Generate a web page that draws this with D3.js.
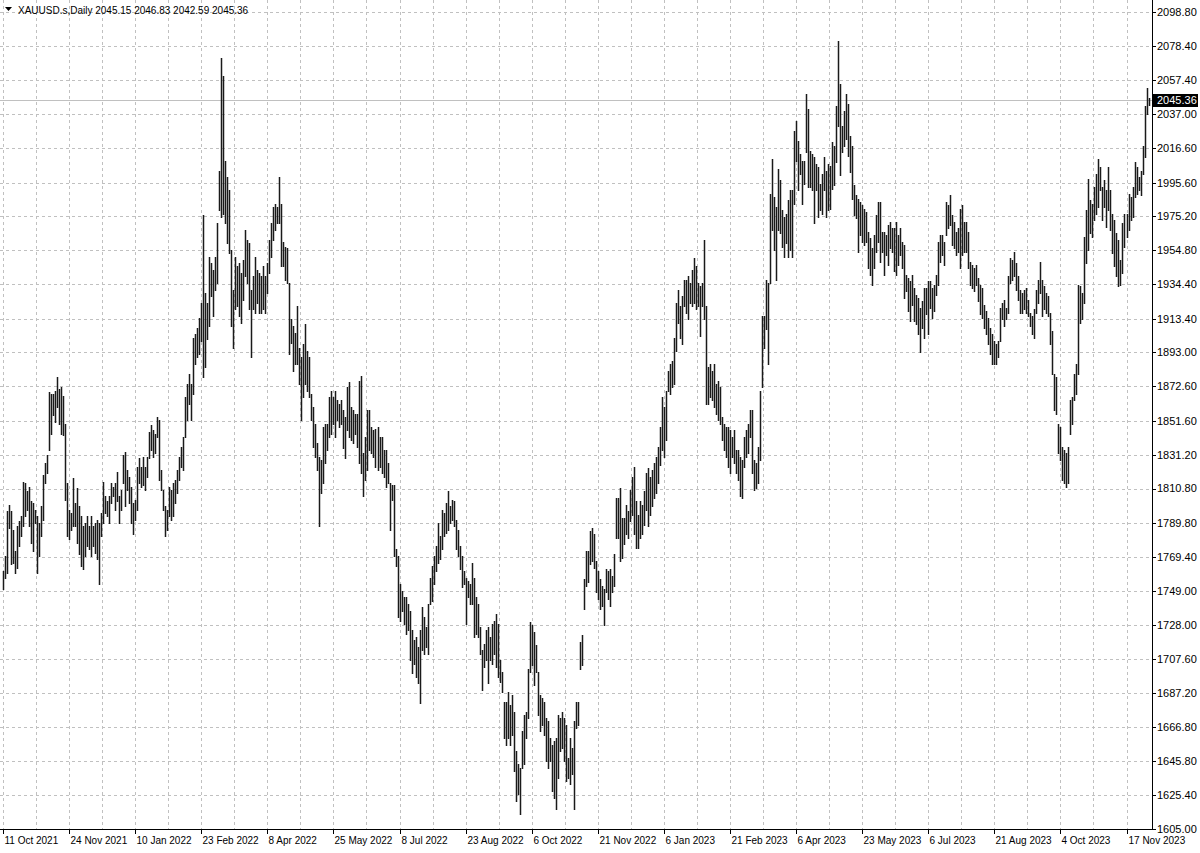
<!DOCTYPE html>
<html><head><meta charset="utf-8">
<script src="https://cdn.jsdelivr.net/npm/d3@7"></script>
<style>html,body{margin:0;padding:0;background:#fff;}svg{display:block;}</style>
</head><body>
<svg id="c" width="1200" height="853"></svg>
<script>
const symbolName = "XAUUSD.s,Daily";
const lastOHLC = [2045.15, 2046.83, 2042.59, 2045.36];
const currentPrice = 2045.36;
const dateLabels = ["11 Oct 2021","24 Nov 2021","10 Jan 2022","23 Feb 2022","8 Apr 2022","25 May 2022","8 Jul 2022","23 Aug 2022","6 Oct 2022","21 Nov 2022","6 Jan 2023","21 Feb 2023","6 Apr 2023","23 May 2023","6 Jul 2023","21 Aug 2023","4 Oct 2023","17 Nov 2023"];
const barsPerLabel = 33;
const priceTicks = [2098.80,2078.40,2057.40,2037.00,2016.60,1995.60,1975.20,1954.80,1934.40,1913.40,1893.00,1872.60,1851.60,1831.20,1810.80,1789.80,1769.40,1749.00,1728.00,1707.60,1687.20,1666.80,1645.80,1625.40,1605.00];

const highs = [
1761,1770,1797,1801,1797,1786,1773,1788,1791,1794,
1815,1814,1809,1812,1803,1802,1798,1794,1790,1800,
1819,1826,1831,1869,1868,1868,1870,1878,1871,1872,
1867,1850,1814,1798,1796,1817,1802,1811,1800,1794,
1788,1790,1794,1788,1794,1788,1790,1792,1790,1796,
1815,1806,1803,1806,1814,1812,1814,1821,1806,1810,
1831,1833,1822,1818,1812,1802,1804,1824,1829,1824,
1830,1824,1830,1845,1849,1846,1844,1854,1852,1822,
1810,1800,1798,1812,1810,1814,1816,1822,1830,1836,
1842,1866,1874,1880,1874,1902,1904,1908,1914,1923,
1976,1929,1923,1951,1947,1943,1951,1971,2003,2071,
2060,2009,1999,1991,1955,1931,1951,1945,1947,1941,
1949,1967,1961,1959,1931,1939,1951,1943,1941,1939,
1945,1939,1947,1961,1971,1981,1983,1981,1999,1983,
1960,1957,1956,1935,1913,1909,1905,1921,1896,1890,
1898,1910,1894,1890,1868,1860,1850,1838,1830,1828,
1848,1850,1850,1866,1870,1866,1870,1864,1862,1864,
1858,1854,1872,1875,1860,1858,1856,1856,1876,1879,
1832,1842,1858,1858,1848,1846,1847,1848,1842,1842,
1834,1834,1826,1814,1813,1813,1774,1770,1753,1749,
1745,1745,1741,1737,1725,1719,1721,1715,1725,1739,
1733,1727,1741,1757,1764,1770,1776,1790,1782,1798,
1796,1802,1809,1800,1804,1803,1792,1786,1776,1770,
1761,1757,1755,1753,1766,1757,1745,1741,1727,1713,
1717,1725,1727,1721,1729,1731,1735,1729,1707,1700,
1682,1682,1688,1680,1686,1676,1652,1644,1642,1664,
1674,1676,1702,1730,1728,1724,1716,1700,1686,1684,
1682,1672,1670,1660,1656,1658,1660,1674,1672,1676,
1672,1668,1648,1660,1654,1670,1682,1682,1718,1722,
1756,1773,1773,1785,1787,1783,1767,1761,1756,1752,
1750,1762,1761,1762,1758,1771,1805,1805,1811,1793,
1793,1801,1797,1810,1818,1824,1803,1795,1803,1801,
1809,1820,1823,1818,1822,1826,1830,1836,1848,1866,
1860,1870,1882,1886,1888,1902,1923,1931,1921,1927,
1937,1937,1939,1935,1943,1950,1945,1935,1933,1935,
1961,1921,1884,1886,1882,1886,1874,1876,1872,1854,
1850,1848,1848,1846,1842,1846,1834,1834,1830,1828,
1842,1846,1850,1858,1858,1828,1826,1836,1870,1915,
1915,1937,1935,1989,2010,1987,1981,2004,1997,1979,
1975,1977,1985,1991,1991,2027,2033,2021,2013,2009,
2009,2049,2040,2015,2013,2011,2007,2005,1995,2001,
2011,2003,2007,2006,2020,2018,2042,2081,2055,2030,
2039,2049,2043,2024,2018,1994,1988,1986,1984,1982,
1980,1978,1966,1962,1956,1964,1976,1984,1984,1966,
1966,1964,1970,1972,1968,1968,1972,1964,1968,1960,
1958,1940,1938,1936,1940,1932,1928,1926,1920,1924,
1932,1932,1936,1936,1932,1934,1940,1960,1964,1964,
1960,1984,1982,1988,1976,1972,1966,1968,1980,1982,
1972,1972,1966,1948,1946,1944,1946,1938,1934,1932,
1922,1918,1914,1908,1904,1900,1898,1900,1920,1923,
1925,1920,1939,1950,1949,1954,1947,1939,1931,1929,
1931,1932,1925,1917,1915,1919,1931,1937,1948,1937,
1933,1929,1927,1917,1906,1880,1878,1850,1848,1836,
1834,1832,1836,1864,1866,1880,1886,1934,1933,1929,
1963,1979,1998,1985,1983,1993,2001,2010,2005,1993,
1997,1991,2005,1991,1977,1973,1965,1961,1949,1971,
1977,1977,1989,1987,1993,2008,2005,1999,2003,2018,
2042,2053,2046.83
];
const lows = [
1750,1757,1760,1787,1765,1766,1760,1763,1776,1782,
1788,1794,1798,1788,1778,1773,1790,1760,1770,1782,
1792,1814,1820,1834,1844,1855,1851,1860,1850,1844,
1843,1804,1782,1780,1786,1788,1788,1778,1771,1764,
1762,1770,1776,1774,1770,1776,1772,1768,1753,1782,
1790,1796,1794,1790,1802,1806,1798,1803,1790,1798,
1814,1800,1810,1802,1790,1783,1792,1798,1814,1812,
1813,1810,1818,1829,1834,1830,1832,1842,1816,1810,
1798,1782,1786,1794,1792,1794,1802,1808,1816,1824,
1822,1842,1852,1862,1852,1868,1886,1890,1892,1900,
1878,1884,1901,1909,1927,1915,1931,1935,1979,1975,
1977,1971,1959,1953,1909,1896,1919,1921,1915,1911,
1925,1939,1935,1919,1890,1919,1917,1923,1917,1917,
1919,1917,1929,1941,1951,1961,1967,1971,1971,1945,
1945,1937,1935,1892,1899,1882,1886,1886,1874,1852,
1866,1874,1870,1866,1852,1836,1830,1822,1788,1808,
1814,1826,1834,1842,1844,1850,1842,1852,1848,1850,
1835,1829,1846,1842,1840,1838,1844,1836,1826,1820,
1806,1816,1822,1834,1832,1830,1824,1822,1824,1820,
1818,1812,1814,1786,1804,1770,1764,1733,1731,1737,
1729,1723,1725,1707,1699,1705,1697,1693,1681,1713,
1711,1715,1711,1741,1743,1753,1761,1766,1768,1774,
1782,1784,1786,1790,1792,1788,1774,1770,1762,1751,
1753,1729,1745,1741,1741,1721,1723,1721,1711,1689,
1703,1707,1693,1707,1705,1711,1703,1697,1694,1688,
1660,1656,1660,1656,1662,1640,1622,1626,1614,1642,
1644,1660,1672,1700,1704,1692,1700,1674,1664,1668,
1662,1646,1642,1646,1628,1624,1617,1636,1652,1654,
1646,1634,1636,1632,1638,1617,1666,1668,1702,1704,
1738,1752,1754,1765,1767,1763,1748,1744,1738,1740,
1728,1748,1744,1740,1748,1752,1781,1781,1767,1769,
1777,1783,1781,1791,1795,1783,1775,1775,1781,1783,
1789,1798,1788,1795,1800,1805,1808,1814,1825,1834,
1830,1840,1870,1868,1872,1874,1894,1911,1902,1898,
1921,1917,1913,1923,1921,1923,1919,1921,1903,1921,
1913,1862,1862,1866,1864,1860,1856,1852,1850,1840,
1834,1830,1824,1820,1830,1826,1820,1816,1806,1805,
1824,1830,1832,1842,1820,1810,1811,1814,1828,1872,
1896,1907,1886,1935,1967,1955,1937,1967,1965,1957,
1951,1959,1951,1955,1951,1983,2009,1991,2001,1983,
1995,2014,1993,1993,1991,1971,1991,1975,1979,1977,
1991,1975,1979,1980,1992,1994,2008,2030,2000,2014,
2018,2022,2012,2002,1986,1976,1974,1954,1964,1960,
1958,1960,1944,1940,1934,1944,1954,1960,1948,1954,
1940,1952,1946,1956,1954,1942,1940,1946,1952,1944,
1926,1930,1918,1912,1922,1912,1910,1904,1893,1908,
1902,1916,1904,1920,1914,1918,1928,1934,1948,1952,
1946,1964,1968,1970,1958,1956,1952,1954,1944,1952,
1954,1954,1944,1934,1932,1930,1934,1924,1916,1914,
1908,1904,1898,1892,1886,1886,1886,1890,1900,1913,
1909,1913,1917,1935,1937,1939,1931,1925,1917,1917,
1919,1917,1915,1909,1904,1902,1917,1923,1929,1915,
1919,1917,1915,1898,1880,1858,1856,1832,1828,1816,
1814,1812,1814,1844,1850,1864,1868,1880,1911,1913,
1923,1947,1955,1965,1963,1973,1977,1981,1991,1973,
1981,1969,1979,1967,1953,1945,1939,1933,1934,1941,
1957,1963,1967,1973,1975,1987,1989,1991,1988,2001,
2011,2037,2042.59
];

const W = 1200, H = 853;
const plotRight = 1152, plotBottom = 829;
const svg = d3.select("#c");
const font = "'Liberation Sans', Arial, sans-serif";

const x = d3.scaleLinear().domain([0, barsPerLabel * (dateLabels.length - 1)]).range([3, 1126.5]);
const y = d3.scaleLinear().domain([1605, 2098.8]).range([829, 12]);
const px = v => Math.round(x(v)) + 0.5;
const py = v => Math.round(y(v)) + 0.5;

svg.append("rect").attr("width", W).attr("height", H).attr("fill", "#fff");

// grid
const grid = svg.append("g").attr("stroke", "#c0c0c0").attr("stroke-dasharray", "3,3").attr("shape-rendering", "crispEdges");
priceTicks.forEach(p => {
  grid.append("line").attr("x1", 0).attr("x2", plotRight).attr("y1", py(p)).attr("y2", py(p));
});
d3.range(0, highs.length, barsPerLabel / 2).forEach(i => {
  if (x(i) < plotRight - 2) grid.append("line").attr("x1", px(i)).attr("x2", px(i)).attr("y1", 0).attr("y2", plotBottom);
});

// current price line
svg.append("line").attr("x1", 0).attr("x2", plotRight).attr("y1", py(currentPrice)).attr("y2", py(currentPrice))
  .attr("stroke", "#c0c0c0").attr("shape-rendering", "crispEdges");

// bars
svg.append("g").attr("stroke", "#1a1a1a").attr("stroke-width", 1.5)
  .selectAll("line").data(d3.range(highs.length)).join("line")
  .attr("x1", i => px(i)).attr("x2", i => px(i))
  .attr("y1", i => Math.round(y(highs[i]))).attr("y2", i => Math.round(y(lows[i])) + 1);

// frame
svg.append("line").attr("x1", plotRight + 0.5).attr("x2", plotRight + 0.5).attr("y1", 0).attr("y2", plotBottom + 1).attr("stroke", "#000");
svg.append("line").attr("x1", 0).attr("x2", plotRight + 1).attr("y1", plotBottom + 0.5).attr("y2", plotBottom + 0.5).attr("stroke", "#000");

// y axis labels + ticks
const ya = svg.append("g");
priceTicks.forEach(p => {
  ya.append("line").attr("x1", plotRight).attr("x2", plotRight + 4).attr("y1", py(p)).attr("y2", py(p)).attr("stroke", "#000");
  ya.append("text").attr("x", 1157).attr("y", y(p)).attr("dy", "0.35em")
    .attr("font-family", font).attr("font-size", 11).attr("fill", "#000").text(p.toFixed(2));
});

// current price label
svg.append("rect").attr("x", 1153).attr("y", py(currentPrice) - 6.5).attr("width", 45).attr("height", 13).attr("fill", "#000");
svg.append("text").attr("x", 1157).attr("y", y(currentPrice)).attr("dy", "0.35em")
  .attr("font-family", font).attr("font-size", 11).attr("fill", "#fff").text(currentPrice.toFixed(2));

// x axis labels + ticks
const xa = svg.append("g");
dateLabels.forEach((lab, k) => {
  const i = k * barsPerLabel;
  xa.append("line").attr("x1", px(i)).attr("x2", px(i)).attr("y1", plotBottom).attr("y2", plotBottom + 5).attr("stroke", "#000");
  xa.append("text").attr("x", px(i) + 1).attr("y", 844).attr("font-family", font).attr("font-size", 10).attr("fill", "#000").text(lab);
});

// title
svg.append("path").attr("d", "M5,7 L12,7 L8.5,11 Z").attr("fill", "#000");
svg.append("text").attr("x", 18).attr("y", 14).attr("font-family", font).attr("font-size", 10).attr("fill", "#000")
  .text(symbolName + "  " + lastOHLC.map(v => v.toFixed(2)).join(" "));
</script>
</body></html>
